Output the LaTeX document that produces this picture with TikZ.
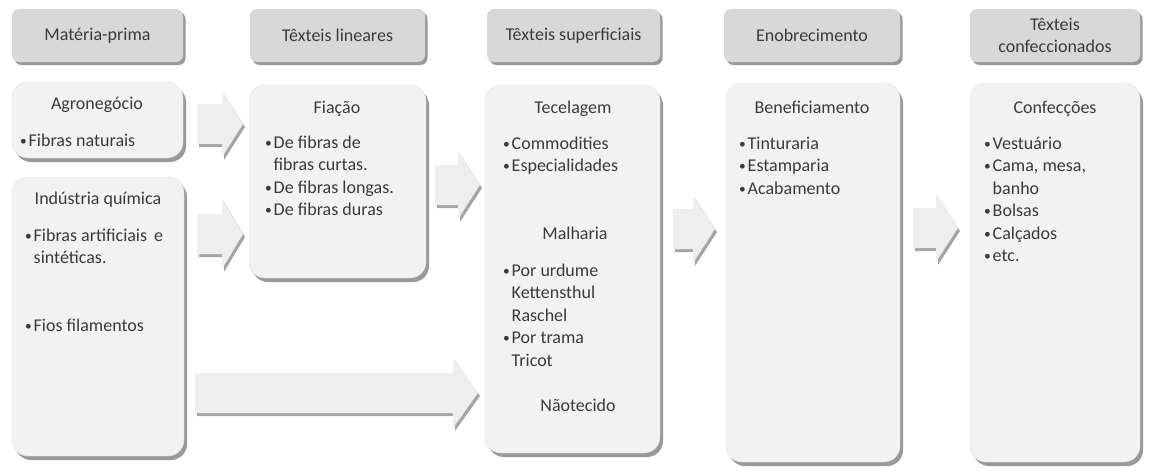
\documentclass[tikz,border=0pt]{standalone}
\usepackage{fontspec}
\setmainfont{Carlito}
\usetikzlibrary{shadows}
\definecolor{hdrfill}{HTML}{D8D8D8}
\definecolor{boxfill}{HTML}{F2F2F2}
\definecolor{arrfill}{HTML}{EEEEEE}
\definecolor{edgec}{HTML}{E0E0E0}
\definecolor{txt}{HTML}{3A3A3A}
\definecolor{shad}{HTML}{888888}
\newcommand\bl{\raisebox{1pt}{\scalebox{0.75}{\textbullet}}}
\newcommand\chevarrow[5]{% x0, xhead, xtip, ycenter, [body half / head half fixed]
  \path[chev] (#1,{#4-20}) -- (#2,{#4-20}) -- (#2,{#4-#5}) -- (#3,#4) -- (#2,{#4+#5}) -- (#2,{#4+20}) -- (#1,{#4+20}) -- cycle;}
\begin{document}
\begin{tikzpicture}[x=1pt,y=-1pt,
  every node/.style={text=txt, inner sep=0pt, outer sep=0pt},
  font=\fontsize{18}{22.5}\selectfont,
  hdr/.style={fill=hdrfill, rounded corners=7pt, anchor=north west, align=center,
      drop shadow={shadow xshift=2.5pt, shadow yshift=-3pt, fill=shad, opacity=.85}},
  bodybox/.style={fill=boxfill, draw=edgec, line width=.4pt, rounded corners=16pt, anchor=north west,
      drop shadow={shadow xshift=3pt, shadow yshift=-4pt, fill=shad, opacity=.85}},
  ttl/.style={anchor=base},
  lst/.style={anchor=base west, align=left},
  chev/.style={fill=arrfill, drop shadow={shadow xshift=2pt, shadow yshift=-3pt, fill=shad, opacity=.75}}]
\useasboundingbox[fill=white] (0,0) rectangle (1149,471);

% headers
\node[hdr, minimum width=171pt, minimum height=53pt] (h1) at (12,9) {Matéria-prima};
\node[hdr, minimum width=175pt, minimum height=53pt] (h2) at (250,9) {Têxteis lineares};
\node[hdr, minimum width=173pt, minimum height=53pt] (h3) at (487,9) {Têxteis superficiais};
\node[hdr, minimum width=176pt, minimum height=53pt] (h4) at (724,9) {Enobrecimento};
\node[hdr, minimum width=170pt, minimum height=53pt] (h5) at (970,9) {Têxteis\\confeccionados};

% arrows
\chevarrow{197}{222}{243}{124}{33}
\chevarrow{197}{222}{243}{234}{35}
\chevarrow{435}{458}{480}{185}{34}
\chevarrow{673}{693}{715}{229}{34}
\chevarrow{913}{936}{958}{228}{34}
\chevarrow{195}{453}{478}{393}{35}

% body boxes
\node[bodybox, minimum width=171pt, minimum height=76pt] (agro) at (12,82) {};
\node[bodybox, minimum width=172pt, minimum height=279pt] (ind) at (12,177) {};
\node[bodybox, minimum width=177pt, minimum height=193pt] (fia) at (249,85) {};
\node[bodybox, minimum width=175pt, minimum height=368pt] (tec) at (485,85) {};
\node[bodybox, minimum width=174pt, minimum height=379pt] (ben) at (726,83) {};
\node[bodybox, minimum width=170pt, minimum height=379pt] (con) at (970,83) {};

% texts column 1
\node[ttl] (t_agro) at (97,109) {Agronegócio};
\node[lst] (l_agro) at (20,146) {\begin{tabular}[t]{@{}l@{\hspace{2pt}}l@{}}\bl & Fibras naturais\end{tabular}};
\node[ttl] (t_ind) at (98,204) {Indústria química};
\node[lst] (l_ind1) at (25,241) {\begin{tabular}[t]{@{}l@{\hspace{2pt}}l@{}}\bl & Fibras artificiais\, e\\ & sintéticas.\end{tabular}};
\node[lst] (l_ind2) at (25,331) {\begin{tabular}[t]{@{}l@{\hspace{2pt}}l@{}}\bl & Fios filamentos\end{tabular}};

% column 2
\node[ttl] (t_fia) at (337,113) {Fiação};
\node[lst] (l_fia) at (265,148) {\begin{tabular}[t]{@{}l@{\hspace{2pt}}l@{}}\bl & De fibras de\\ & fibras curtas.\\ \bl & De fibras longas.\\ \bl & De fibras duras\end{tabular}};

% column 3
\node[ttl] (t_tec) at (573,113) {Tecelagem};
\node[lst] (l_tec) at (503,149) {\begin{tabular}[t]{@{}l@{\hspace{2pt}}l@{}}\bl & Commodities\\ \bl & Especialidades\end{tabular}};
\node[ttl] (t_mal) at (575,239) {Malharia};
\node[lst] (l_mal) at (503,276) {\begin{tabular}[t]{@{}l@{\hspace{2pt}}l@{}}\bl & Por urdume\\ & Kettensthul\\ & Raschel\\ \bl & Por trama\\ & Tricot\end{tabular}};
\node[ttl] (t_nao) at (578,411) {Nãotecido};

% column 4
\node[ttl] (t_ben) at (812,113) {Beneficiamento};
\node[lst] (l_ben) at (739,149) {\begin{tabular}[t]{@{}l@{\hspace{2pt}}l@{}}\bl & Tinturaria\\ \bl & Estamparia\\ \bl & Acabamento\end{tabular}};

% column 5
\node[ttl] (t_con) at (1055,113) {Confecções};
\node[lst] (l_con) at (984,149) {\begin{tabular}[t]{@{}l@{\hspace{2pt}}l@{}}\bl & Vestuário\\ \bl & Cama, mesa,\\ & banho\\ \bl & Bolsas\\ \bl & Calçados\\ \bl & etc.\end{tabular}};
\end{tikzpicture}
\end{document}
